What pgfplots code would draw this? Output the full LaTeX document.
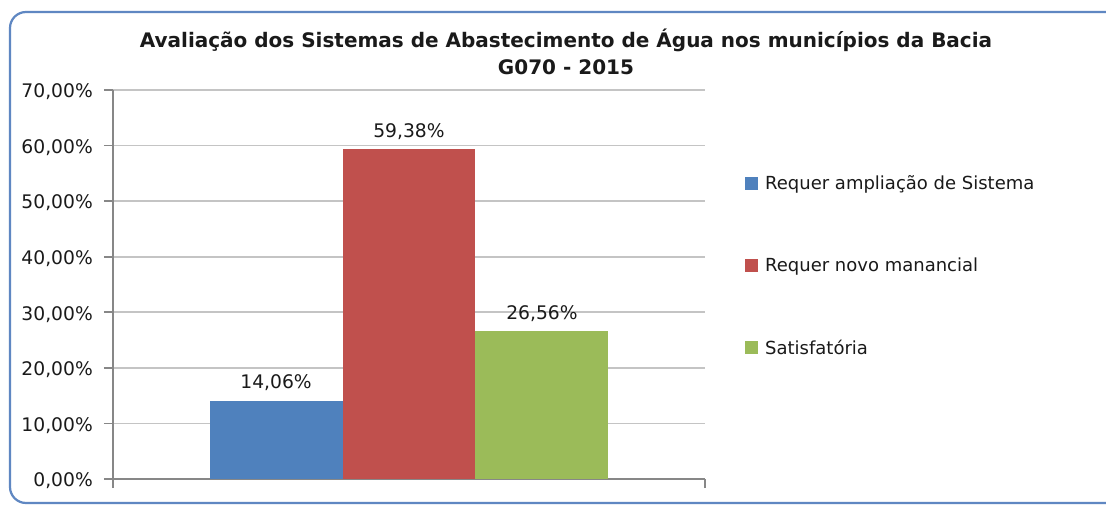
\documentclass[border=0pt]{standalone}
\usepackage{fontspec}
\setmainfont{DejaVu Sans}
\usepackage{pgfplots}
\pgfplotsset{compat=1.18}

\definecolor{serieA}{HTML}{4F81BD}
\definecolor{serieB}{HTML}{C0504D}
\definecolor{serieC}{HTML}{9BBB59}
\definecolor{framecol}{HTML}{5F87C2}
\definecolor{axisgray}{HTML}{878787}
\definecolor{gridgray}{HTML}{C4C4C4}
\definecolor{textdark}{HTML}{1A1A1A}

\begin{document}
\begin{tikzpicture}[x=1pt,y=1pt]
  \path[use as bounding box] (0,0) rectangle (1106,507);
  \fill[white] (0,0) rectangle (1106,507);
  % rounded chart frame
  \draw[framecol, line width=2.2pt, rounded corners=16pt] (10,4) rectangle (1150,495);
  % chart title
  \node[anchor=base, text=textdark, font=\fontsize{20}{24}\selectfont\bfseries, inner sep=0pt]
    at (566,459) {Avaliação dos Sistemas de Abastecimento de Água nos municípios da Bacia};
  \node[anchor=base, text=textdark, font=\fontsize{20}{24}\selectfont\bfseries, inner sep=0pt]
    at (566,432) {G070 - 2015};

  \begin{axis}[
    at={(113pt,28pt)}, anchor=south west,
    scale only axis, width=592pt, height=389pt,
    xmin=-1.2265, xmax=3.2265,
    ymin=0, ymax=70,
    ytick={0,10,...,70},
    xtick={-1.2265,3.2265}, xticklabels={},
    axis lines*=left,
    axis line style={draw=axisgray, line width=1.6pt},
    tick style={draw=axisgray, line width=1.6pt},
    major tick length=9pt, tick align=outside,
    ymajorgrids,
    grid style={draw=gridgray, line width=1.6pt},
    /pgf/number format/assume math mode=true,
    yticklabel={\pgfmathprintnumber[fixed,fixed zerofill,precision=2,use comma]{\tick}\%},
    yticklabel style={font=\fontsize{18.7}{21}\selectfont, text=textdark, anchor=east,
      inner xsep=0pt, xshift=-11pt, yshift=-2pt},
    point meta=explicit symbolic,
    nodes near coords,
    nodes near coords style={font=\fontsize{18.7}{21}\selectfont, text=textdark, anchor=base,
      inner sep=0pt, yshift=12pt},
    legend image code/.code={\fill[#1, draw=none] (0pt,-6.5pt) rectangle (13pt,6.5pt);},
    legend cell align=left,
    legend style={draw=none, fill=none, at={(1.0625,0.5486)}, anchor=west,
      row sep=63pt, font=\fontsize{18}{21}\selectfont, text=textdark,
      /tikz/every odd column/.append style={column sep=5pt}},
  ]
    \addplot[ybar, bar width=1, bar shift=0pt, fill=serieA, draw=none]
      coordinates {(0,14.06) [14,06\%]};
    \addlegendentry{Requer ampliação de Sistema}
    \addplot[ybar, bar width=1, bar shift=0pt, fill=serieB, draw=none]
      coordinates {(1,59.38) [59,38\%]};
    \addlegendentry{Requer novo manancial}
    \addplot[ybar, bar width=1, bar shift=0pt, fill=serieC, draw=none]
      coordinates {(2,26.56) [26,56\%]};
    \addlegendentry{Satisfatória}
  \end{axis}
\end{tikzpicture}
\end{document}
